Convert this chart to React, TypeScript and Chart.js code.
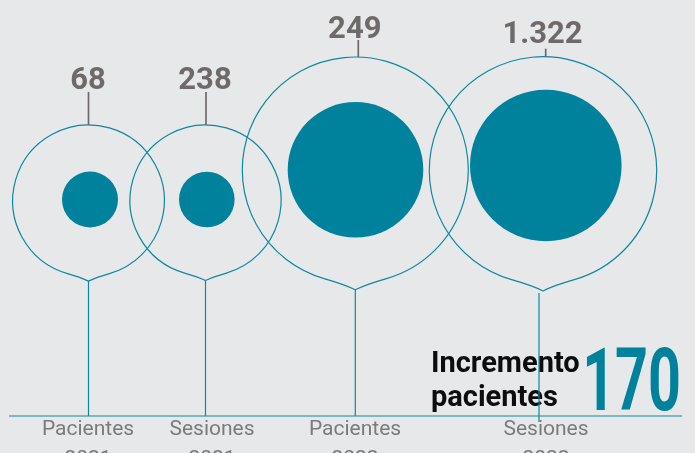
import React, { useEffect, useRef } from 'react';
import { Chart, registerables } from 'chart.js';

Chart.register(...registerables);

// ---- data ----
const categories = ['Pacientes 2021', 'Sesiones 2021', 'Pacientes 2022', 'Sesiones 2022'];
const values = [68, 238, 249, 1322];
const incrementLabel = ['Incremento', 'pacientes'];
const incrementValue = 170;

// ---- layout / style (pixels) ----
const W = 695;
const H = 453;
const AREA_L = 9;
const AREA_R = 682;
const BASE_Y = 416;
const ringX = [88.5, 205.5, 355.3, 543];
const ringY = [200.8, 200.5, 170, 170.4];
const ringR = [75.8, 75.5, 113, 113.7];
const innerR = [28, 27.8, 67.8, 75.8];
const innerShiftX = [1.5, 1.3, 0.2, 2.8];
const innerShiftY = [-1.3, -1.0, -0.2, -4.9];
const tickX = [88, 212, 355, 546];
const upperStemLen = [33, 33, 17, 8];
const upperStemShiftX = [0, 0.5, 3, 2.7];
const labelGap = [36, 36, 19, 13.5];
const lowerStemShiftX = [0, 0, 0, -4];
const lowerStemStartGap = [0, 0, 0, 2];
const lowerStemOvershoot = [0, 0, 0, 6];

const BG = '#e7e8ea';
const TEAL = '#00819c';
const TEAL_LINE = '#0f87a0';
const VALUE_GRAY = '#6e6a69';
const TICK_GRAY = '#7b7b7b';

const fmt = (v: number) => String(v).replace(/\B(?=(\d{3})+(?!\d))/g, '.');

function drawRing(ctx: CanvasRenderingContext2D, cx: number, cy: number, r: number) {
  const th = (16 * Math.PI) / 180;
  const tipY = cy + r + r * 0.06;
  const T = { x: cx, y: tipY };
  const Pl = { x: cx - r * Math.sin(th), y: cy + r * Math.cos(th) };
  const Pr = { x: cx + r * Math.sin(th), y: cy + r * Math.cos(th) };
  const d = Math.hypot(T.x - Pr.x, T.y - Pr.y);
  const a = d * 0.35;
  const al = (26 * Math.PI) / 180;
  ctx.beginPath();
  ctx.arc(cx, cy, r, Math.PI / 2 + th, Math.PI / 2 - th + Math.PI * 2, false);
  ctx.bezierCurveTo(
    Pr.x - a * Math.cos(th), Pr.y + a * Math.sin(th),
    T.x + a * Math.cos(al), T.y - a * Math.sin(al),
    T.x, T.y
  );
  ctx.bezierCurveTo(
    T.x - a * Math.cos(al), T.y - a * Math.sin(al),
    Pl.x + a * Math.cos(th), Pl.y + a * Math.sin(th),
    Pl.x, Pl.y
  );
  ctx.stroke();
  return tipY;
}

const decorPlugin = {
  id: 'decor',
  afterDatasetsDraw(chart: any) {
    const { ctx, scales } = chart;
    const x = scales.x;
    const y = scales.y;
    ctx.save();

    const base = y.getPixelForValue(BASE_Y);

    // baseline
    ctx.strokeStyle = TEAL_LINE;
    ctx.lineWidth = 1.2;
    ctx.beginPath();
    ctx.moveTo(x.getPixelForValue(AREA_L), base);
    ctx.lineTo(x.getPixelForValue(AREA_R), base);
    ctx.stroke();

    // category labels
    ctx.fillStyle = TICK_GRAY;
    ctx.font = '21px Roboto';
    ctx.textAlign = 'center';
    ctx.textBaseline = 'alphabetic';
    categories.forEach((c, i) => {
      const px = x.getPixelForValue(tickX[i]);
      c.split(' ').forEach((line, j) => ctx.fillText(line, px, base + 19 + j * 30));
    });

    // increment text
    ctx.fillStyle = '#0d0d0d';
    ctx.font = 'bold 29px Roboto';
    ctx.textAlign = 'left';
    ctx.fillText(incrementLabel[0], 431, 372);
    ctx.fillText(incrementLabel[1], 431, 406);
    ctx.save();
    ctx.fillStyle = TEAL;
    ctx.font = 'bold 87px Roboto';
    ctx.textAlign = 'right';
    ctx.translate(681, 410);
    ctx.scale(0.66, 1);
    ctx.fillText(String(incrementValue), 0, 0);
    ctx.restore();

    values.forEach((v, i) => {
      const cx = x.getPixelForValue(ringX[i]);
      const cy = y.getPixelForValue(ringY[i]);
      const r = ringR[i];
      ctx.strokeStyle = TEAL_LINE;
      ctx.lineWidth = 1.2;
      const tipY = drawRing(ctx, cx, cy, r);
      // lower stem
      ctx.beginPath();
      ctx.moveTo(cx + lowerStemShiftX[i], tipY + lowerStemStartGap[i]);
      ctx.lineTo(cx + lowerStemShiftX[i], base + lowerStemOvershoot[i]);
      ctx.stroke();
      // upper stem
      const top = cy - r;
      ctx.strokeStyle = VALUE_GRAY;
      ctx.lineWidth = 1.7;
      ctx.beginPath();
      ctx.moveTo(cx + upperStemShiftX[i], top - upperStemLen[i]);
      ctx.lineTo(cx + upperStemShiftX[i], top);
      ctx.stroke();
      // value label
      ctx.fillStyle = VALUE_GRAY;
      ctx.font = 'bold 31px Roboto';
      ctx.textAlign = 'center';
      ctx.fillText(fmt(v), cx - 0.5, top - labelGap[i]);
    });
    ctx.restore();
  },
};

export default function App() {
  const ref = useRef<HTMLCanvasElement | null>(null);
  useEffect(() => {
    if (!ref.current) return;
    const chart = new Chart(ref.current, {
      type: 'scatter',
      data: {
        datasets: [
          {
            label: 'valores',
            data: values.map((v, i) => ({ x: ringX[i] + innerShiftX[i], y: ringY[i] + innerShiftY[i], v })),
            pointRadius: innerR,
            pointHoverRadius: innerR,
            backgroundColor: TEAL,
            borderWidth: 0,
            clip: false,
          } as any,
        ],
      },
      options: {
        animation: false,
        responsive: false,
        events: [],
        layout: { autoPadding: false, padding: { left: AREA_L, right: W - AREA_R, top: 0, bottom: H - BASE_Y } },
        plugins: { legend: { display: false }, tooltip: { enabled: false } },
        scales: {
          x: { type: 'linear', display: false, min: AREA_L, max: AREA_R },
          y: { type: 'linear', display: false, min: 0, max: BASE_Y, reverse: true },
        },
      } as any,
      plugins: [decorPlugin],
    });
    return () => chart.destroy();
  }, []);
  return (
    <div style={{ position: 'fixed', left: 0, top: 0, width: W, height: H, background: BG, overflow: 'hidden' }}>
      <canvas ref={ref} width={W} height={H} style={{ display: 'block', width: W, height: H }} />
    </div>
  );
}
